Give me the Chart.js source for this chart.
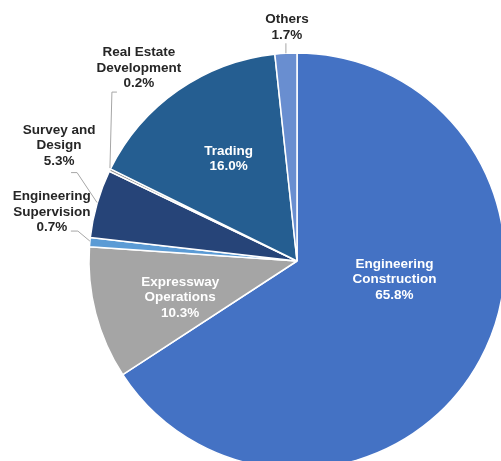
<!DOCTYPE html>
<html>
<head>
<meta charset="utf-8">
<script src="https://cdn.jsdelivr.net/npm/chart.js@4.4.0/dist/chart.umd.min.js"></script>
<style>
  html, body { margin: 0; padding: 0; background: #fff; overflow: hidden; width: 501px; height: 461px; }
  #wrap { position: absolute; left: 0; top: 0; width: 594px; height: 522px; }
</style>
</head>
<body>
<div id="wrap"><canvas id="pie"></canvas></div>
<script>
// segments, clockwise from 12 o'clock
const segments = [
  "Engineering Construction",
  "Expressway Operations",
  "Engineering Supervision",
  "Survey and Design",
  "Real Estate Development",
  "Trading",
  "Others",
];
const shares = [65.8, 10.3, 0.7, 5.3, 0.2, 16.0, 1.7];
const labelLines = [
  ["Engineering", "Construction", "65.8%"],
  ["Expressway", "Operations", "10.3%"],
  ["Engineering", "Supervision", "0.7%"],
  ["Survey and", "Design", "5.3%"],
  ["Real Estate", "Development", "0.2%"],
  ["Trading", "16.0%"],
  ["Others", "1.7%"],
];
const colors = ["#4472C4", "#A5A5A5", "#5B9BD5", "#264478", "#8C8C8C", "#255E91", "#698ED0"];

// label placement: inside labels sit at a fraction of the radius, outside ones at the rim with a leader
const placement = [
  { inside: true, r: 0.5, dx: 6, dy: -31 },
  { inside: true, r: 0.6, dx: 4, dy: 5 },
  { inside: false, dx: -38, dy: -30, leader: [[0, -1], [-12, -11], [-19, -11]] },
  { inside: false, dx: -38, dy: -58, leader: [[0, -1], [-20, -31], [-26, -31]] },
  { inside: false, dx: 29, dy: -102, leader: [[0, -2], [2, -78], [7, -78]] },
  { inside: true, r: 0.6, dx: 3, dy: 0 },
  { inside: false, dx: 1, dy: -26, leader: [[0, 0], [0, -10]] },
];

const labelPlugin = {
  id: "sliceLabels",
  afterDatasetsDraw(chart) {
    const ctx = chart.ctx;
    const arcs = chart.getDatasetMeta(0).data;
    const lineH = 15.5;
    ctx.save();
    ctx.font = "bold 13.5px 'Liberation Sans', Arial, sans-serif";
    ctx.textAlign = "center";
    ctx.textBaseline = "middle";
    arcs.forEach((arc, i) => {
      const p = placement[i];
      const mid = (arc.startAngle + arc.endAngle) / 2;
      const rad = p.inside ? arc.outerRadius * p.r : arc.outerRadius;
      const ax = arc.x + Math.cos(mid) * rad;
      const ay = arc.y + Math.sin(mid) * rad;
      if (p.leader) {
        ctx.strokeStyle = "#A6A6A6";
        ctx.lineWidth = 1;
        ctx.beginPath();
        p.leader.forEach(([lx, ly], k) => {
          if (k === 0) ctx.moveTo(ax + lx, ay + ly);
          else ctx.lineTo(ax + lx, ay + ly);
        });
        ctx.stroke();
      }
      const lines = labelLines[i];
      const cx = ax + p.dx;
      const cy = ay + p.dy;
      ctx.fillStyle = p.inside ? "#FFFFFF" : "#262626";
      lines.forEach((t, k) => {
        ctx.fillText(t, cx, cy + (k - (lines.length - 1) / 2) * lineH);
      });
    });
    ctx.restore();
  },
};

new Chart(document.getElementById("pie"), {
  type: "pie",
  data: {
    labels: segments,
    datasets: [{
      data: shares,
      backgroundColor: colors,
      borderColor: "#FFFFFF",
      borderWidth: 1.5,
    }],
  },
  options: {
    responsive: true,
    maintainAspectRatio: false,
    animation: false,
    radius: 208,
    layout: { padding: 0 },
    plugins: {
      legend: { display: false },
      tooltip: { enabled: false },
    },
  },
  plugins: [labelPlugin],
});
</script>
</body>
</html>
